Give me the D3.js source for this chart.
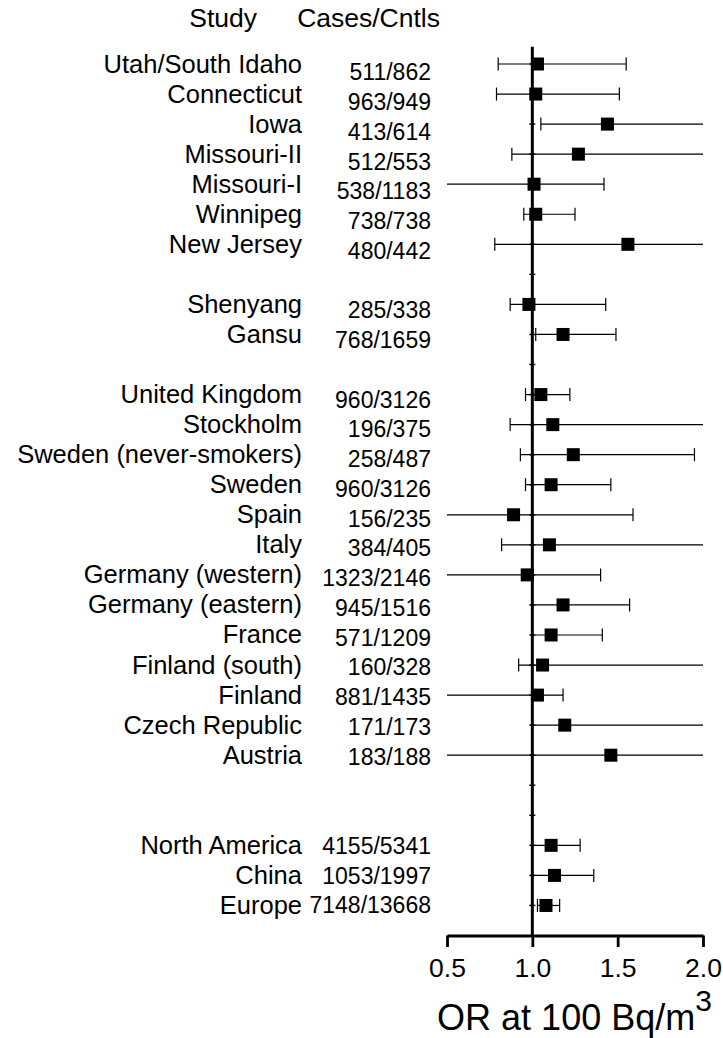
<!DOCTYPE html>
<html>
<head>
<meta charset="utf-8">
<script src="https://cdn.jsdelivr.net/npm/d3@7"></script>
<style>
  body { margin: 0; background: #fff; }
  svg { font-family: "Liberation Sans", Arial, sans-serif; }
</style>
</head>
<body>
<svg id="chart" width="723" height="1038"></svg>
<script>
// study rows, "" = spacer row between the groups
const studies = ["Utah/South Idaho", "Connecticut", "Iowa", "Missouri-II", "Missouri-I", "Winnipeg", "New Jersey", "",
  "Shenyang", "Gansu", "",
  "United Kingdom", "Stockholm", "Sweden (never-smokers)", "Sweden", "Spain", "Italy", "Germany (western)",
  "Germany (eastern)", "France", "Finland (south)", "Finland", "Czech Republic", "Austria", "", "",
  "North America", "China", "Europe"];
const cases = ["511/862", "963/949", "413/614", "512/553", "538/1183", "738/738", "480/442", "",
  "285/338", "768/1659", "",
  "960/3126", "196/375", "258/487", "960/3126", "156/235", "384/405", "1323/2146",
  "945/1516", "571/1209", "160/328", "881/1435", "171/173", "183/188", "", "",
  "4155/5341", "1053/1997", "7148/13668"];
// odds ratio and 95% limits (limits outside 0.5-2.0 run off the axis)
const oddsRatio = [1.03, 1.02, 1.44, 1.27, 1.01, 1.02, 1.56, null,
  0.98, 1.18, null,
  1.05, 1.12, 1.24, 1.11, 0.89, 1.10, 0.97, 1.18, 1.11, 1.06, 1.03, 1.19, 1.46, null, null,
  1.11, 1.13, 1.08];
const lower = [0.80, 0.79, 1.05, 0.88, 0.45, 0.95, 0.78, null,
  0.87, 1.02, null,
  0.96, 0.87, 0.93, 0.96, 0.45, 0.82, 0.45, 1.00, 1.00, 0.92, 0.45, 1.00, 0.45, null, null,
  1.00, 1.00, 1.03];
const upper = [1.55, 1.51, 2.3, 2.3, 1.42, 1.25, 2.3, null,
  1.43, 1.49, null,
  1.22, 2.3, 1.95, 1.46, 1.59, 2.3, 1.40, 1.57, 1.41, 2.3, 1.18, 2.3, 2.3, null, null,
  1.28, 1.36, 1.16];
const xTicks = [0.5, 1.0, 1.5, 2.0];

const svg = d3.select('#chart');

const x = d3.scaleLinear().domain([0.5, 2.0]).range([447, 703]).clamp(true);
const y = d3.scaleLinear().domain([0, 29]).range([64, 935.5]);    // row index -> marker row
const yNum = d3.scaleLinear().domain([0, 28]).range([72, 905]);   // the count column drifts a bit

const rows = studies.map((s, i) => ({
  study: s, cases: cases[i], or: oddsRatio[i], lo: lower[i], hi: upper[i], row: i
}));
const filled = rows.filter(d => d.or != null);

// column headers
svg.append('text').attr('x', 257).attr('y', 27).attr('text-anchor', 'end')
  .attr('font-size', 26.5).text('Study');
svg.append('text').attr('x', 440).attr('y', 27).attr('text-anchor', 'end')
  .attr('font-size', 26.5).text('Cases/Cntls');

// study names
svg.append('g').selectAll('text')
  .data(filled).enter().append('text')
  .attr('x', 302)
  .attr('y', d => y(d.row) + 8.5)
  .attr('text-anchor', 'end')
  .attr('font-size', 25.5)
  .text(d => d.study);

// cases / controls
svg.append('g').selectAll('text')
  .data(filled).enter().append('text')
  .attr('x', 431)
  .attr('y', d => yNum(d.row) + 8.3)
  .attr('text-anchor', 'end')
  .attr('font-size', 23)
  .text(d => d.cases);

// reference line at OR = 1
svg.append('line')
  .attr('x1', x(1)).attr('x2', x(1))
  .attr('y1', y(-0.57)).attr('y2', y(29))
  .attr('stroke', '#000').attr('stroke-width', 3);

// small marks on the reference line at every row
svg.append('g').selectAll('line')
  .data(rows).enter().append('line')
  .attr('x1', x(1) - 3).attr('x2', x(1) + 3)
  .attr('y1', d => y(d.row)).attr('y2', d => y(d.row))
  .attr('stroke', '#000').attr('stroke-width', 1.5);

// confidence interval lines
const ci = svg.append('g').attr('stroke', '#000').attr('stroke-width', 1.2);
ci.selectAll('line.ci')
  .data(filled).enter().append('line')
  .attr('class', 'ci')
  .attr('x1', d => x(d.lo)).attr('x2', d => x(d.hi))
  .attr('y1', d => y(d.row)).attr('y2', d => y(d.row));

// caps only where the limit is inside the axis range
const caps = [];
filled.forEach(d => {
  if (d.lo >= 0.5) caps.push({ v: d.lo, row: d.row });
  if (d.hi <= 2.0) caps.push({ v: d.hi, row: d.row });
});
ci.selectAll('line.cap')
  .data(caps).enter().append('line')
  .attr('class', 'cap')
  .attr('x1', d => x(d.v)).attr('x2', d => x(d.v))
  .attr('y1', d => y(d.row) - 6.5).attr('y2', d => y(d.row) + 6.5);

// point estimates
const sq = 13;
svg.append('g').selectAll('rect')
  .data(filled).enter().append('rect')
  .attr('x', d => x(d.or) - sq / 2)
  .attr('y', d => y(d.row) - sq / 2)
  .attr('width', sq).attr('height', sq)
  .attr('fill', '#000');

// x axis
const axis = svg.append('g')
  .attr('transform', `translate(0,${y(29)})`)
  .call(d3.axisBottom(x).tickValues(xTicks).tickSize(11.5).tickSizeOuter(0).tickFormat(d3.format('.1f')));
axis.select('.domain').attr('stroke-width', 2.8);
axis.selectAll('.tick line').attr('stroke-width', 2.8);
axis.selectAll('.tick text')
  .attr('y', 41).attr('dy', 0)
  .attr('font-size', 26.5)
  .attr('font-family', '"Liberation Sans", Arial, sans-serif')
  .attr('fill', '#000');

// axis title
const title = svg.append('text')
  .attr('x', 574.5).attr('y', 1029.5)
  .attr('text-anchor', 'middle')
  .attr('font-size', 36);
title.append('tspan').text('OR at 100 Bq/m');
title.append('tspan').attr('dy', -19).attr('font-size', 30).text('3');
</script>
</body>
</html>
